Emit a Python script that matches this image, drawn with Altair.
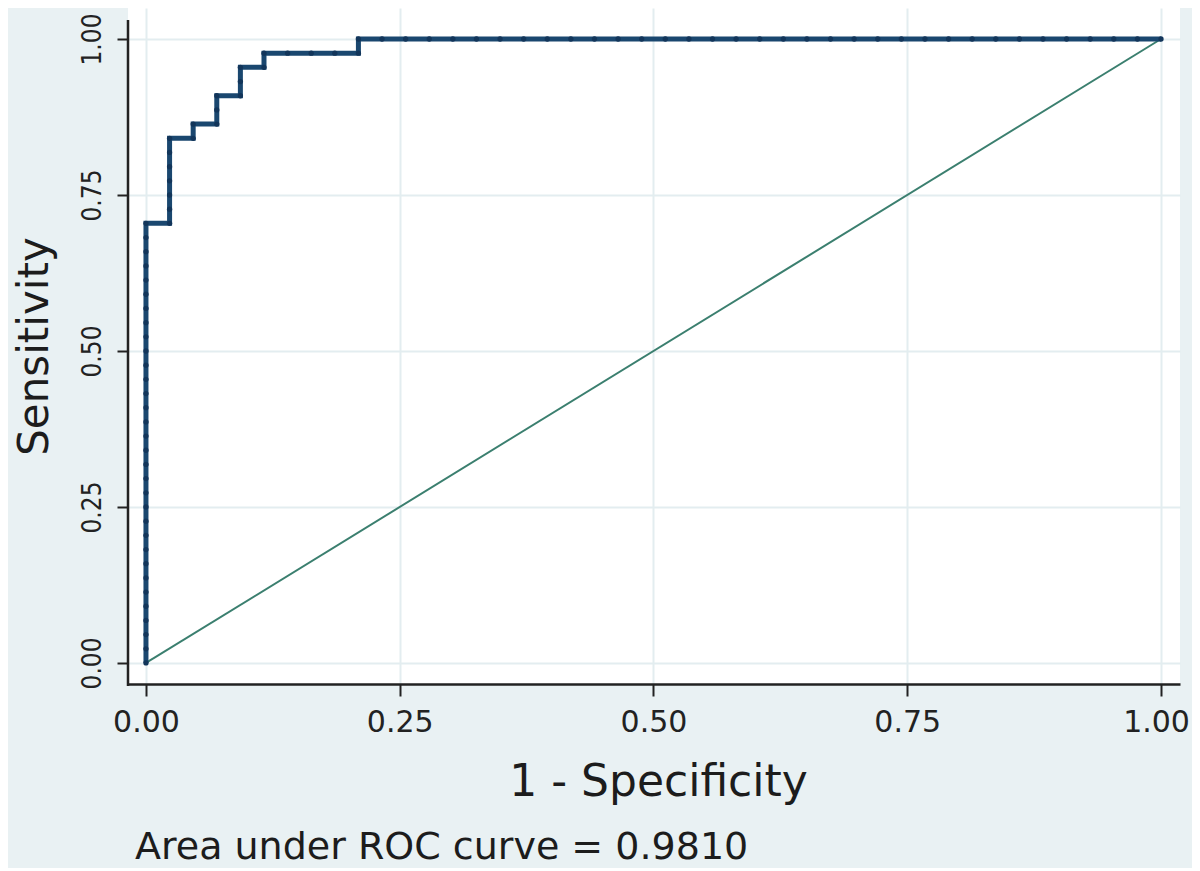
import altair as alt
import pandas as pd

# ROC points, as counts of false / true positives
N_NEG = 43
N_POS = 44
FP_COUNT = [0, 0, 0, 0, 0, 0, 0, 0, 0, 0, 0, 0, 0, 0, 0, 0,
            0, 0, 0, 0, 0, 0, 0, 0, 0, 0, 0, 0, 0, 0, 0, 0,
            1, 1, 1, 1, 1, 1, 1,
            2, 2,
            3, 3, 3,
            4, 4, 4,
            5, 5,
            6, 7, 8, 9,
            9, 10, 11, 12, 13, 14, 15, 16, 17, 18, 19, 20, 21, 22, 23, 24,
            25, 26, 27, 28, 29, 30, 31, 32, 33, 34, 35, 36, 37, 38, 39, 40,
            41, 42, 43]
TP_COUNT = [0, 1, 2, 3, 4, 5, 6, 7, 8, 9, 10, 11, 12, 13, 14, 15,
            16, 17, 18, 19, 20, 21, 22, 23, 24, 25, 26, 27, 28, 29, 30, 31,
            31, 32, 33, 34, 35, 36, 37,
            37, 38,
            38, 39, 40,
            40, 41, 42,
            42, 43,
            43, 43, 43, 43,
            44, 44, 44, 44, 44, 44, 44, 44, 44, 44, 44, 44, 44, 44, 44, 44,
            44, 44, 44, 44, 44, 44, 44, 44, 44, 44, 44, 44, 44, 44, 44, 44,
            44, 44, 44]
REF_X = [0.0, 1.0]
REF_Y = [0.0, 1.0]
TICKS = [0.0, 0.25, 0.5, 0.75, 1.0]
X_TITLE = "1 - Specificity"
Y_TITLE = "Sensitivity"
AUC_LABEL = "Area under ROC curve = 0.9810"

roc = pd.DataFrame({
    "idx": list(range(len(FP_COUNT))),
    "fpr": [v / N_NEG for v in FP_COUNT],
    "tpr": [v / N_POS for v in TP_COUNT],
})
ref = pd.DataFrame({"fpr": REF_X, "tpr": REF_Y})
one = pd.DataFrame({"label": [AUC_LABEL]})

BG = "#e9f1f3"
GRID = "#e3edf0"
INK = "#1c1c1c"
NAVY = "#1a476f"
TEAL = "#3b7f6f"

xscale = alt.Scale(domain=[-0.0177, 1.0187], nice=False, zero=False)
yscale = alt.Scale(domain=[-0.0337, 1.0497], nice=False, zero=False)

xaxis = alt.Axis(
    values=TICKS, format=".2f", title=X_TITLE,
    titleFont="DejaVu Sans", titleFontSize=44, titleFontWeight="normal",
    titleColor=INK, titleX=530, titleY=111, titleBaseline="alphabetic",
    titleAlign="center",
    labelFont="DejaVu Sans", labelFontSize=30, labelColor="#222222",
    labelPadding=11, labelFlush=False, labelOverlap=False,
    labelOffset={"expr": "datum.value >= 1 ? -5 : 0"},
    tickSize=12, tickWidth=2, tickColor="#222222",
    domainColor="#222222", domainWidth=2.5,
    grid=True, gridColor=GRID, gridWidth=2,
)
yaxis = alt.Axis(
    values=TICKS, format=".2f", title=Y_TITLE,
    titleFont="DejaVu Sans", titleFontSize=42, titleFontWeight="normal",
    titleColor=INK, titleAngle=270, titleX=-81, titleY=338,
    titleBaseline="alphabetic", titleAlign="center",
    labelFont="Liberation Sans Narrow, DejaVu Sans Condensed, Roboto Condensed, sans-serif",
    labelFontSize=26, labelColor="#222222", labelAngle=270,
    labelAlign="center", labelBaseline="alphabetic", labelPadding=17,
    labelFlush=False, labelOverlap=False,
    tickSize=11, tickWidth=2, tickColor="#222222",
    domain=False,
    grid=True, gridColor=GRID, gridWidth=2,
)

X_ENC = alt.X("fpr:Q", scale=xscale, axis=xaxis)
Y_ENC = alt.Y("tpr:Q", scale=yscale, axis=yaxis)

diag = alt.Chart(ref).mark_line(color=TEAL, strokeWidth=2).encode(
    x=X_ENC, y=Y_ENC,
)

roc_line = alt.Chart(roc).mark_line(color=NAVY, strokeWidth=5, strokeJoin="miter").encode(
    x=X_ENC, y=Y_ENC, order="idx:Q",
)

roc_pts = alt.Chart(roc).mark_circle(color="#12355a", size=28, opacity=1).encode(
    x=X_ENC, y=Y_ENC,
)

yline = alt.Chart(one).mark_rule(color="#222222", strokeWidth=2.5).encode(
    x=alt.value(0), y=alt.value(12), y2=alt.value(678),
)

auc_text = alt.Chart(one).mark_text(
    font="DejaVu Sans", fontSize=38, color=INK, align="left", baseline="alphabetic",
).encode(
    x=alt.value(7), y=alt.value(851), text="label:N",
)

chart = alt.layer(diag, roc_line, roc_pts, yline, auc_text).properties(
    width=1052, height=676,
    padding={"left": 120, "top": 0, "right": 12, "bottom": 184},
    autosize=alt.AutoSizeParams(type="none"),
).configure(background=BG).configure_view(fill="white", strokeWidth=0)

chart.save("out.html", embed_options={"renderer": "svg", "actions": False})
